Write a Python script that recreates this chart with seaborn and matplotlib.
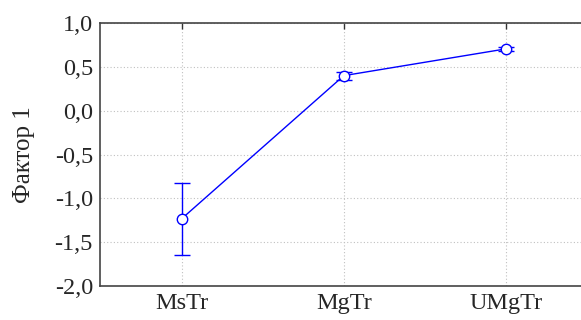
import matplotlib
matplotlib.use("Agg")
import matplotlib.pyplot as plt
import seaborn as sns
import pandas as pd
import numpy as np

categories = ["MsTr", "MgTr", "UMgTr"]
means = [-1.23, 0.40, 0.705]
lower = [-1.64, 0.355, 0.68]
upper = [-0.82, 0.445, 0.73]
yticks = [-2.0, -1.5, -1.0, -0.5, 0.0, 0.5, 1.0]

sns.set_style("white")
plt.rcParams["font.family"] = ["Liberation Serif", "TeX Gyre Termes", "DejaVu Serif"]
plt.rcParams["font.serif"] = ["Liberation Serif", "TeX Gyre Termes", "DejaVu Serif"]

df = pd.DataFrame({"pos": np.arange(len(categories)), "mean": means})

fig = plt.figure(figsize=(5.81, 3.2), dpi=100)
ax = fig.add_axes([0.172, 0.106, 0.835, 0.822])

ax.grid(True, color="#c0c0c0", linestyle=(0, (1, 2)), linewidth=0.8)
ax.set_axisbelow(True)

yerr = [np.array(means) - np.array(lower), np.array(upper) - np.array(means)]
ax.errorbar(df["pos"], df["mean"], yerr=yerr, fmt="none", ecolor="#0000ff",
            elinewidth=1.0, capsize=6, capthick=1.0, zorder=3)
sns.lineplot(data=df, x="pos", y="mean", ax=ax, color="#0000ff", linewidth=1.0,
             marker="o", markersize=7.5, markerfacecolor="white",
             markeredgecolor="#0000ff", markeredgewidth=1.0, zorder=4)

fs = 17.5
ax.set_xlim(-0.506, 2.49)
ax.set_ylim(-2.0, 1.0)
ax.set_xticks(range(len(categories)))
ax.set_xticklabels(categories, fontfamily="Liberation Serif", fontsize=fs)
ax.set_yticks(yticks)
ax.set_yticklabels([f"{v:.1f}".replace(".", ",") for v in yticks],
                   fontfamily="Liberation Serif", fontsize=fs)
ax.set_xlabel("")
ax.set_ylabel("Фактор 1", fontsize=18, fontfamily="Liberation Serif", labelpad=14)
ax.tick_params(axis="both", direction="in", length=4, width=1,
               color="#333333", top=True, right=False, pad=5)
for s in ["left", "bottom", "top"]:
    ax.spines[s].set_color("#444444")
    ax.spines[s].set_linewidth(1.2)
ax.spines["right"].set_visible(False)

fig.savefig("out.png", dpi=100)
